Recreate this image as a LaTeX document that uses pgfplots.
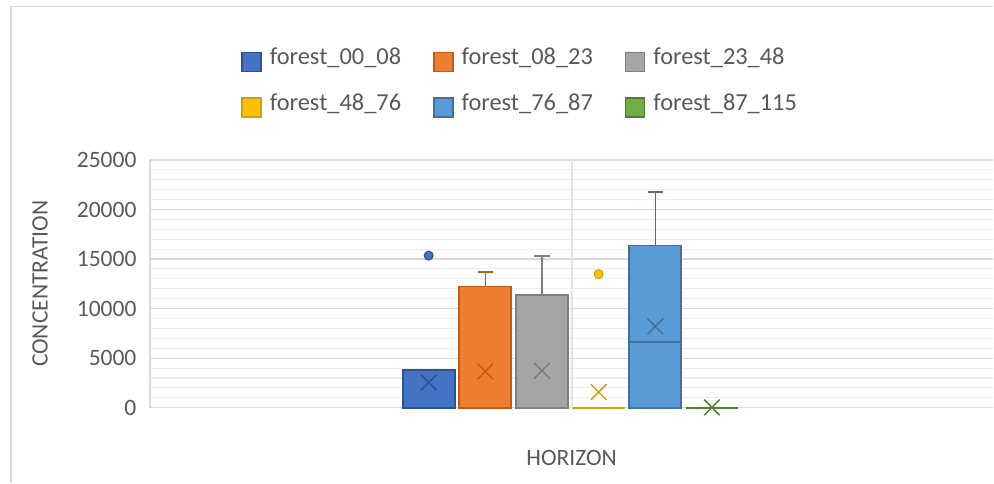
\documentclass[border=0pt]{standalone}
\usepackage{pgfplots}
\pgfplotsset{compat=1.18}
\usepackage{fontspec}
\setmainfont{Carlito}
\definecolor{txt}{HTML}{595959}
\definecolor{gmaj}{HTML}{D9D9D9}
\definecolor{gmin}{HTML}{EEEEEE}
\definecolor{gvert}{HTML}{E4E4E4}
\definecolor{cA}{HTML}{4472C4}\definecolor{bA}{HTML}{2F528F}
\definecolor{cB}{HTML}{ED7D31}\definecolor{bB}{HTML}{C55A11}
\definecolor{cC}{HTML}{A5A5A5}\definecolor{bC}{HTML}{7F7F7F}
\definecolor{cD}{HTML}{FFC000}\definecolor{bD}{HTML}{D4A000}
\definecolor{cE}{HTML}{5B9BD5}\definecolor{bE}{HTML}{41719C}
\definecolor{cF}{HTML}{70AD47}\definecolor{bF}{HTML}{507E32}
\pgfplotsset{
  bx/.style 2 args={ybar, bar width=52bp, bar shift=0pt, fill=#1, draw=#2, line width=1.8bp,
    legend image code/.code={\draw[fill=#1, draw=#2, line width=1.5bp] (0bp,-9.5bp) rectangle (19bp,9.5bp);}},
  wk/.style={forget plot, draw=#1, line width=1.6bp, mark=none},
  ol/.style 2 args={forget plot, only marks, mark=*, mark size=4.5bp, mark options={fill=#1, draw=#2, line width=1bp}},
  mn/.style={forget plot, only marks, mark=x, mark size=11bp, mark options={draw=#1, line width=1.5bp}},
}
\newcommand{\fs}{\fontsize{23.5bp}{28bp}\selectfont}
\newcommand{\fl}{\fontsize{24.4bp}{29bp}\selectfont}
\begin{document}
\begin{tikzpicture}
\begin{axis}[
  at={(150bp,75bp)}, anchor=south west,
  scale only axis, width=844bp, height=248bp,
  xmin=-3.92, xmax=10.966, ymin=0, ymax=25000,
  axis line style={draw=none},
  xtick={-3.92}, xticklabel=\empty, xmajorgrids,
  ytick={0,5000,...,25000}, minor y tick num=4, ymajorgrids, yminorgrids,
  major tick length=0pt, minor tick length=0pt,
  major grid style={gmaj, line width=1.3bp},
  minor grid style={gmin, line width=1.1bp},
  scaled y ticks=false,
  /pgf/number format/assume math mode=true,
  /pgf/number format/set thousands separator={},
  tick label style={font=\fs, text=txt},
  yticklabel style={xshift=-10bp},
  xlabel={HORIZON}, ylabel={CONCENTRATION},
  every axis x label/.style={at={(axis description cs:0.5,-0.2044)}, anchor=center, font=\fs, text=txt},
  every axis y label/.style={at={(axis description cs:-0.1303,0.5)}, rotate=90, anchor=center, font=\fs, text=txt},
  legend columns=3,
  legend cell align=left,
  legend style={at={(axis description cs:0.4378,1.303)}, anchor=center, draw=none, fill=none,
    font=\fl, text=txt, row sep=25bp,
    /tikz/every odd column/.append style={column sep=8bp},
    /tikz/every even column/.append style={column sep=32bp},
    nodes={inner sep=0pt, text height=0.72em, text depth=0.2em}},
  clip=false,
]
% category separator gridline
\draw[gvert, line width=1.3bp] (axis cs:3.53,0) -- (axis cs:3.53,25000);
% boxes (lower quartile = 0 for all series; height = upper quartile)
\addplot[bx={cA}{bA}] coordinates {(1,3830)};
\addlegendentry{forest\_00\_08}
\addplot[bx={cB}{bB}] coordinates {(2,12230)};
\addlegendentry{forest\_08\_23}
\addplot[bx={cC}{bC}] coordinates {(3,11390)};
\addlegendentry{forest\_23\_48}
\addplot[bx={cD}{bD}] coordinates {(4,0)};
\addlegendentry{forest\_48\_76}
\addplot[bx={cE}{bE}] coordinates {(5,16360)};
\addlegendentry{forest\_76\_87}
\addplot[bx={cF}{bF}] coordinates {(6,0)};
\addlegendentry{forest\_87\_115}
% median of forest_76_87
\addplot[wk=bE] coordinates {(4.5415,6620) (5.4585,6620)};
% upper whiskers and caps
\addplot[wk=bB] coordinates {(2,12230) (2,13710)};
\addplot[wk=bB] coordinates {(1.865,13710) (2.135,13710)};
\addplot[wk=bC] coordinates {(3,11390) (3,15320)};
\addplot[wk=bC] coordinates {(2.865,15320) (3.135,15320)};
\addplot[wk=bE] coordinates {(5,16360) (5,21740)};
\addplot[wk=bE] coordinates {(4.865,21740) (5.135,21740)};
% outliers
\addplot[ol={cA}{bA}] coordinates {(1,15350)};
\addplot[ol={cD}{bD}] coordinates {(4,13480)};
% means
\addplot[mn=bA] coordinates {(1,2550)};
\addplot[mn=bB] coordinates {(2,3660)};
\addplot[mn=bC] coordinates {(3,3730)};
\addplot[mn=bD] coordinates {(4,1580)};
\addplot[mn=bE] coordinates {(5,8200)};
\addplot[mn=bF] coordinates {(6,30)};
\end{axis}
\pgfresetboundingbox
\draw[gmaj, line width=1.3bp] (11bp,0bp) -- (11bp,476.5bp) -- (994bp,476.5bp);
\useasboundingbox (0,0) rectangle (994bp,483bp);
\end{tikzpicture}
\end{document}
